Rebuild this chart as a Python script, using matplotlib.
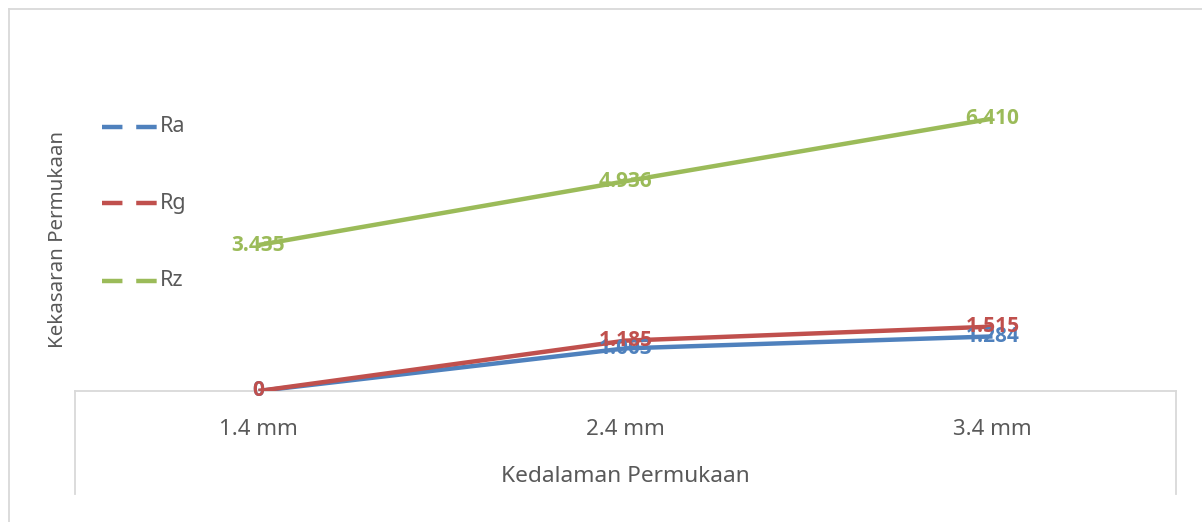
import matplotlib
matplotlib.use("Agg")
import matplotlib.pyplot as plt
from matplotlib.lines import Line2D

categories = ["1.4 mm", "2.4 mm", "3.4 mm"]
series_names = ["Ra", "Rg", "Rz"]
ra = [0.0, 1.003, 1.284]
rg = [0.0, 1.185, 1.515]
rz = [3.435, 4.936, 6.410]
ra_labels = ["0", "1.003", "1.284"]
rg_labels = ["0", "1.185", "1.515"]
rz_labels = ["3.435", "4.936", "6.410"]
x_title = "Kedalaman Permukaan"
y_title = "Kekasaran Permukaan"

colors = ["#4F81BD", "#C0504D", "#9BBB59"]
plt.rcParams['font.family'] = ['Noto Sans', 'DejaVu Sans']

W, H = 1202, 522
fig = plt.figure(figsize=(W / 100, H / 100), dpi=100)
fig.patch.set_facecolor("white")

def fx(px):
    return px / W

def fy(py):
    return 1 - py / H

# outer chart border (left & top visible)
border_col = "#D9D9D9"
fig.add_artist(Line2D([fx(8.5), fx(8.5)], [fy(8.5), fy(530)], color=border_col, lw=1.3))
fig.add_artist(Line2D([fx(8.5), fx(1210)], [fy(8.5), fy(8.5)], color=border_col, lw=1.3))

ax_left, ax_right, ax_bottom, ax_top = 75, 1176, 391, 51
ax = fig.add_axes([fx(ax_left), fy(ax_bottom), fx(ax_right - ax_left), (ax_bottom - ax_top) / H])
ax.set_xlim(-0.5, 2.5)
ax.set_ylim(0, 8)
for s in ["top", "right", "left"]:
    ax.spines[s].set_visible(False)
ax.spines["bottom"].set_color(border_col)
ax.spines["bottom"].set_linewidth(1.3)
ax.set_yticks([])
x = list(range(len(categories)))
ax.set_xticks(x)
ax.set_xticklabels(categories, fontsize=16, color="#595959")
ax.tick_params(axis="x", length=0, pad=20)

# category box lines
for xv in (-0.5, 2.5):
    ax.plot([xv, xv], [0, -(494 - 391) / 340 * 8], color=border_col, lw=1.3, clip_on=False, zorder=1)

data = [ra, rg, rz]
labels = [ra_labels, rg_labels, rz_labels]
for vals, c in zip(data, colors):
    ax.plot(x, vals, color=c, lw=3.2, solid_capstyle="butt", zorder=3)
for vals, labs, c in zip(data, labels, colors):
    for xi, v, lab in zip(x, vals, labs):
        ax.text(xi, v, lab, color=c, fontsize=15, fontweight="bold",
                family=["Open Sans", "DejaVu Sans"],
                ha="center", va="center", zorder=5, clip_on=False)

ax.set_xlabel(x_title, fontsize=16.3, color="#595959", labelpad=19)
fig.text(fx(58), fy(240), y_title, rotation=90, fontsize=14.8, color="#595959",
         ha="center", va="center")

# legend
leg_y = [127, 203, 281]
for name, c, yy in zip(series_names, colors, leg_y):
    fig.add_artist(Line2D([fx(102), fx(157)], [fy(yy), fy(yy)], color=c, lw=3.2,
                          linestyle=(0, (4.6, 3.1)), solid_capstyle="butt"))
    fig.text(fx(160), fy(yy), name, fontsize=15.5, color="#595959", ha="left", va="center")

fig.savefig("out.png", dpi=100, facecolor="white")
